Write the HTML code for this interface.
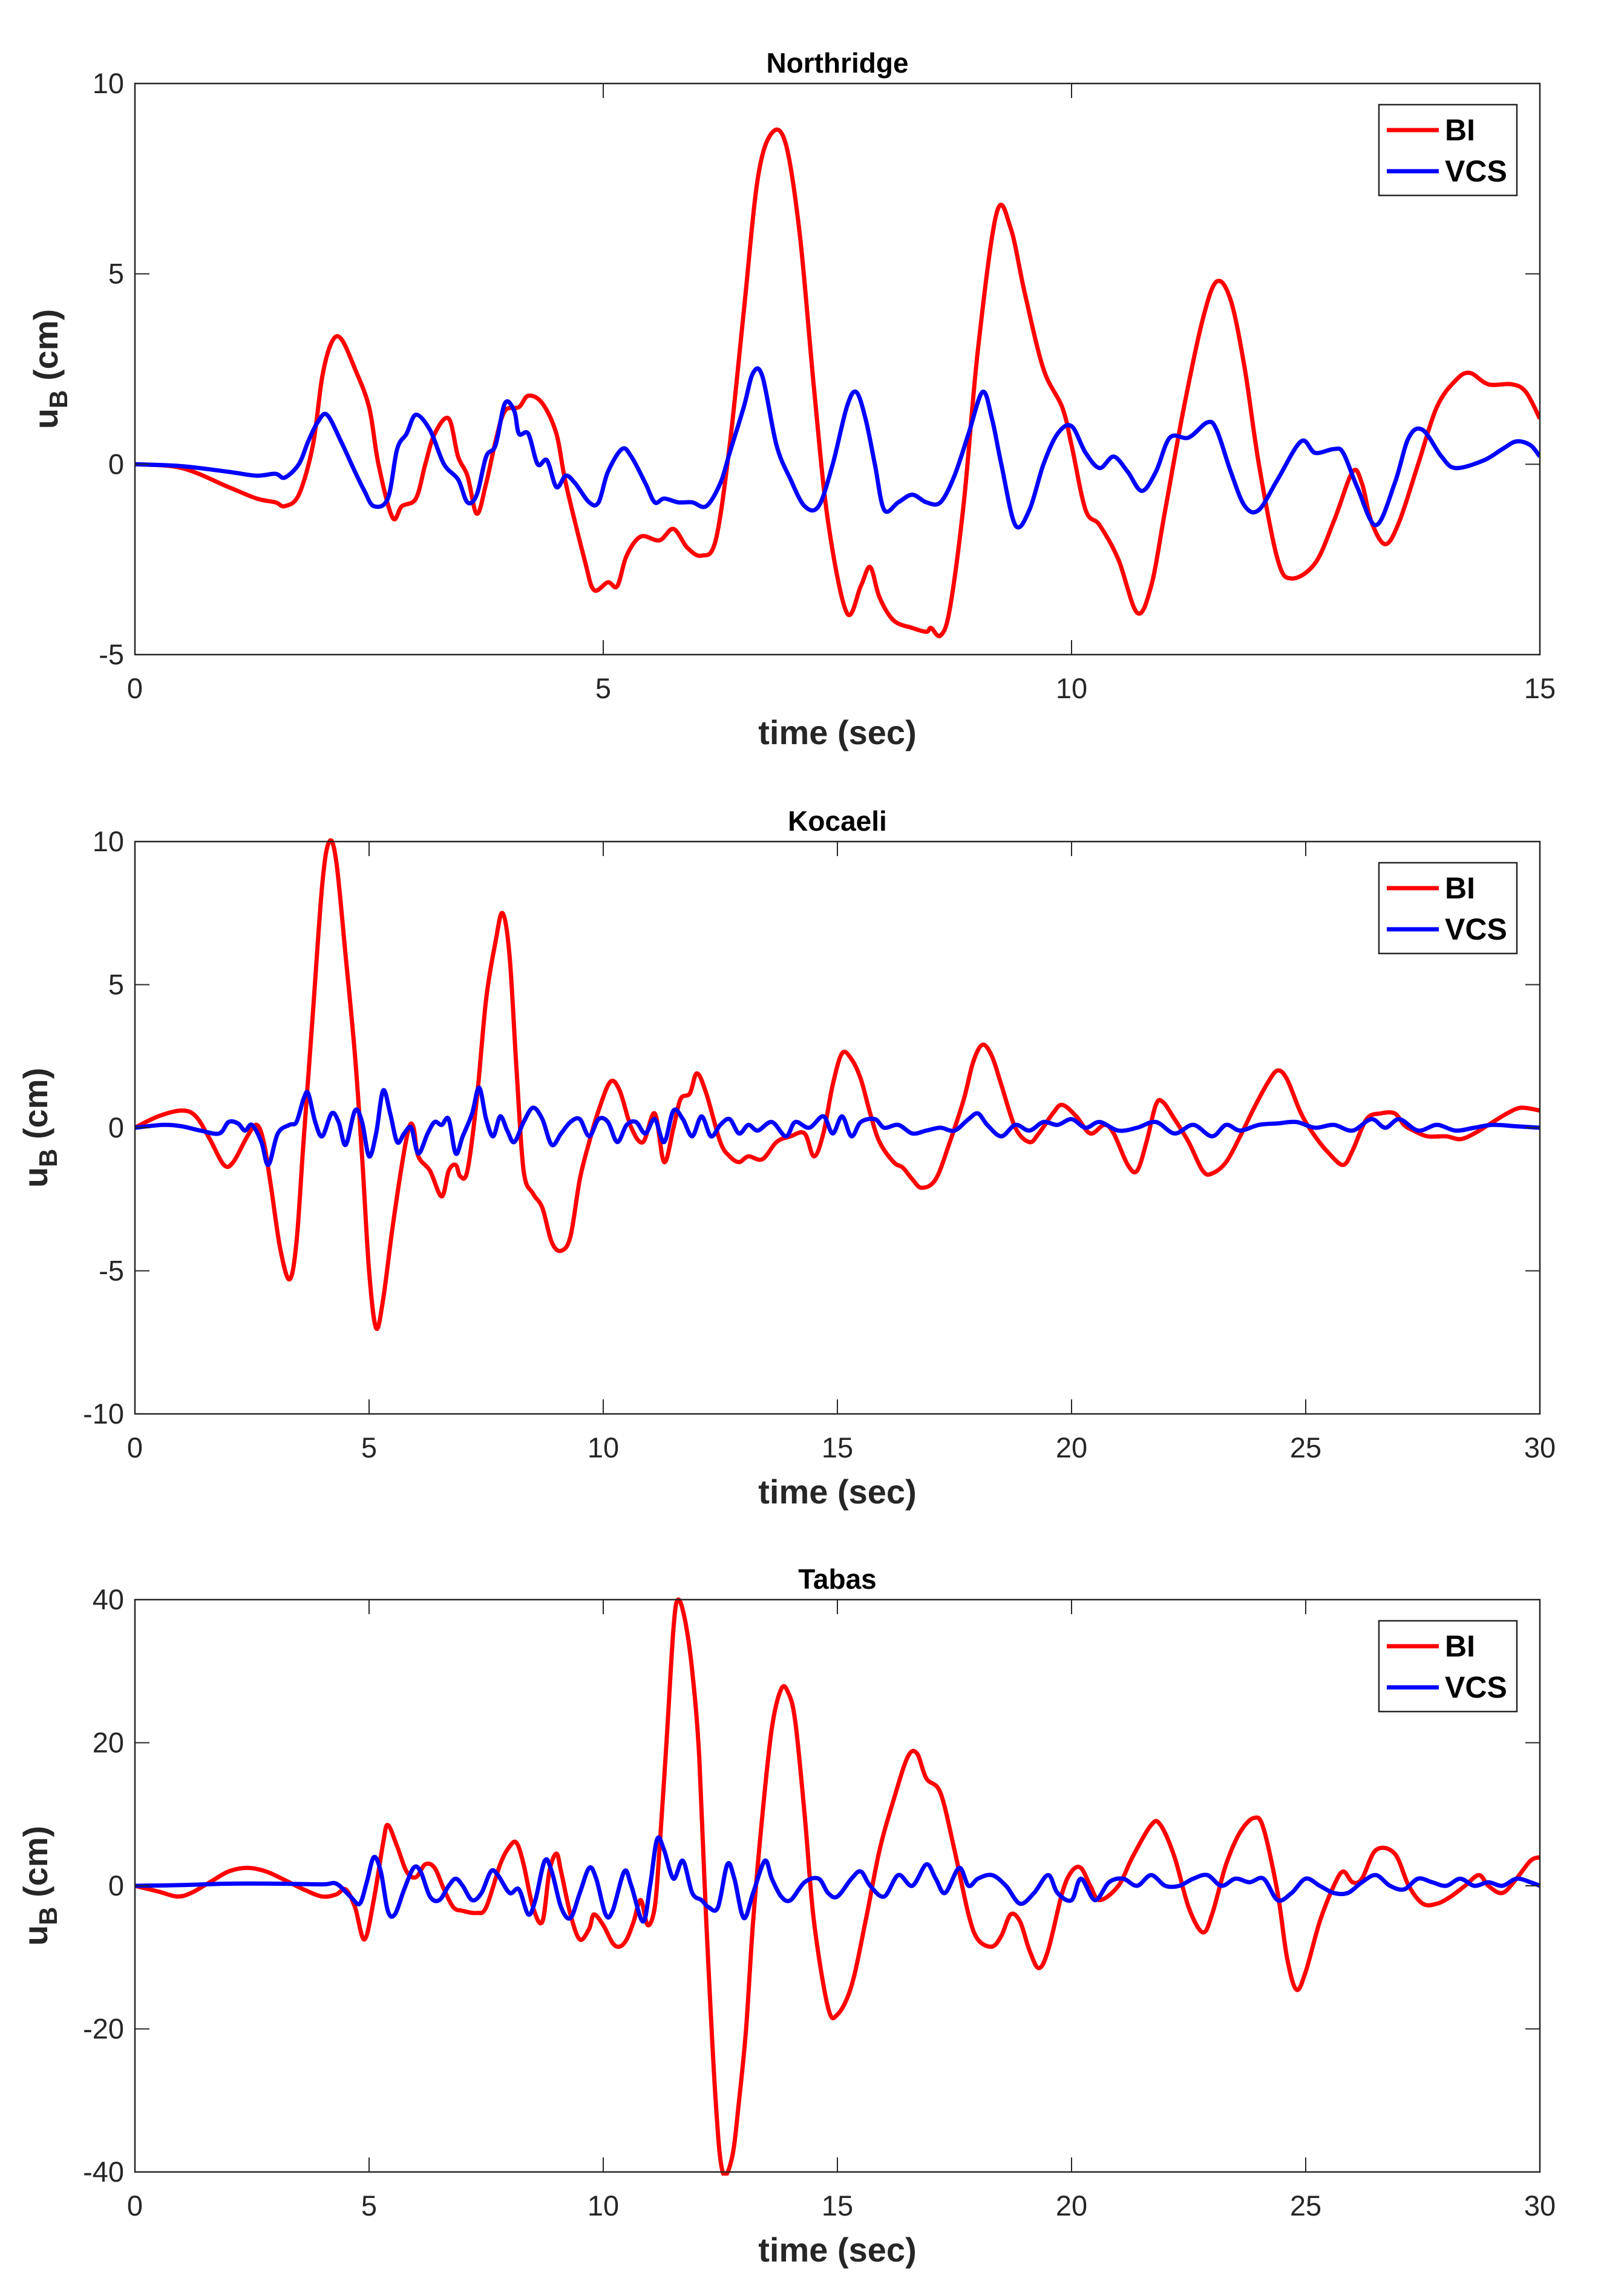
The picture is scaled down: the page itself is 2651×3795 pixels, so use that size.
<!DOCTYPE html>
<html><head><meta charset="utf-8"><style>
html,body{margin:0;padding:0;background:#fff}
svg{display:block}
text{font-family:"Liberation Sans",Arial,sans-serif}
</style></head><body>
<svg id="fig" width="2651" height="3795" viewBox="0 0 2651 3795" xmlns="http://www.w3.org/2000/svg"></svg>
<script>
// ---------- Data ----------
const nrBI_t = [0,0.5,1,1.3,1.5,1.6,1.75,1.9,2.0,2.1,2.2,2.35,2.5,2.6,2.75,2.85,3.0,3.1,3.2,3.35,3.45,3.55,3.65,3.75,3.85,3.95,4.1,4.2,4.35,4.5,4.6,4.8,4.9,5.05,5.15,5.25,5.4,5.6,5.75,5.9,6.05,6.2,6.35,6.5,6.65,6.8,6.95,7.1,7.25,7.4,7.6,7.75,7.85,7.95,8.1,8.3,8.45,8.5,8.6,8.7,8.85,9.0,9.2,9.35,9.5,9.7,9.9,10.0,10.15,10.3,10.5,10.7,10.85,11.0,11.2,11.4,11.55,11.7,11.85,12.0,12.2,12.35,12.6,12.8,13.0,13.1,13.2,13.35,13.5,13.7,13.9,14.1,14.25,14.45,14.7,14.85,15];
const nrBI_v = [0,-0.1,-0.6,-0.9,-1.0,-1.1,-0.8,0.5,2.3,3.2,3.3,2.5,1.5,0,-1.4,-1.1,-0.9,0,0.8,1.2,0.2,-0.3,-1.3,-0.5,0.6,1.4,1.5,1.8,1.6,0.8,-0.5,-2.5,-3.3,-3.1,-3.2,-2.4,-1.9,-2.0,-1.7,-2.2,-2.4,-2.0,0.5,4,7.5,8.7,8.4,6.0,2,-1.5,-3.9,-3.2,-2.7,-3.5,-4.1,-4.3,-4.4,-4.3,-4.5,-3.8,-1.0,3,6.6,6.2,4.5,2.5,1.5,0.5,-1.2,-1.6,-2.5,-3.9,-3.2,-1.2,1.5,3.8,4.8,4.3,2.5,0,-2.5,-3.0,-2.6,-1.5,-0.2,-0.5,-1.5,-2.1,-1.5,0,1.5,2.2,2.4,2.1,2.1,1.9,1.2];
const nrVCS_t = [0,0.5,1,1.3,1.5,1.6,1.75,1.85,1.95,2.05,2.2,2.35,2.45,2.55,2.7,2.8,2.9,3.0,3.15,3.3,3.45,3.55,3.65,3.75,3.85,3.95,4.05,4.1,4.2,4.3,4.4,4.5,4.6,4.7,4.85,4.95,5.05,5.2,5.3,5.45,5.55,5.65,5.8,5.95,6.1,6.25,6.35,6.5,6.6,6.7,6.85,7.0,7.15,7.3,7.45,7.6,7.7,7.8,7.9,8.0,8.15,8.3,8.45,8.6,8.75,8.9,9.05,9.15,9.25,9.4,9.55,9.7,9.85,10.0,10.15,10.3,10.45,10.6,10.75,10.9,11.05,11.25,11.45,11.55,11.7,11.85,12.0,12.2,12.45,12.6,12.8,12.9,13.05,13.25,13.45,13.6,13.75,13.95,14.1,14.4,14.6,14.75,14.9,15];
const nrVCS_v = [0,-0.05,-0.2,-0.3,-0.25,-0.35,0,0.6,1.1,1.3,0.6,-0.2,-0.7,-1.1,-0.9,0.4,0.8,1.3,0.9,0,-0.4,-1.0,-0.8,0.2,0.5,1.6,1.4,0.8,0.8,0,0.1,-0.6,-0.3,-0.5,-1.0,-1.0,-0.2,0.4,0.2,-0.5,-1.0,-0.9,-1.0,-1.0,-1.1,-0.5,0.3,1.5,2.4,2.3,0.5,-0.4,-1.1,-1.1,0,1.5,1.9,1.2,0,-1.2,-1.0,-0.8,-1.0,-1.0,-0.3,0.8,1.9,1.2,0,-1.6,-1.2,0,0.8,1.0,0.3,-0.1,0.2,-0.2,-0.7,-0.2,0.7,0.7,1.1,0.9,-0.2,-1.1,-1.2,-0.4,0.6,0.3,0.4,0.3,-0.6,-1.6,-0.5,0.7,0.9,0.2,-0.1,0.1,0.4,0.6,0.5,0.2];

const koBI_t = [0,0.5,1.0,1.3,1.6,1.9,2.1,2.4,2.6,2.75,2.9,3.1,3.3,3.45,3.6,3.8,4.0,4.15,4.3,4.5,4.7,4.85,5.0,5.15,5.3,5.5,5.7,5.85,5.95,6.05,6.3,6.55,6.7,6.85,6.95,7.1,7.3,7.5,7.7,7.85,8.0,8.15,8.3,8.5,8.7,8.9,9.1,9.3,9.5,9.7,9.9,10.15,10.35,10.6,10.85,11.1,11.3,11.5,11.65,11.85,12.0,12.2,12.5,12.7,12.9,13.1,13.4,13.7,14.0,14.3,14.5,14.7,14.9,15.1,15.3,15.5,15.7,15.9,16.2,16.4,16.6,16.8,17.1,17.4,17.7,17.9,18.1,18.3,18.5,18.8,19.1,19.3,19.6,19.8,20.1,20.4,20.7,20.9,21.2,21.4,21.6,21.8,21.95,22.2,22.5,22.8,23.0,23.3,23.6,23.9,24.2,24.4,24.6,24.9,25.2,25.5,25.8,26.0,26.3,26.6,26.9,27.1,27.3,27.6,28.0,28.3,28.6,29.0,29.3,29.6,30];
const koBI_v = [0,0.4,0.6,0.4,-0.4,-1.3,-1.2,-0.3,0.1,-0.5,-2.0,-4.2,-5.3,-4.0,-0.5,4.0,8.5,10,9.3,6.0,2.5,-1.0,-5.0,-7.0,-6.0,-3.5,-1.3,0,0,-1.0,-1.5,-2.4,-1.5,-1.3,-1.7,-1.5,1.0,4.5,6.5,7.5,6.0,2.0,-1.5,-2.3,-2.8,-4.0,-4.3,-3.8,-1.8,-0.5,0.6,1.6,1.3,0,-0.5,0.5,-1.2,0,1.0,1.2,1.9,1.2,-0.5,-1.0,-1.2,-1.0,-1.1,-0.5,-0.3,-0.2,-1.0,-0.2,1.5,2.6,2.4,1.7,0.5,-0.5,-1.2,-1.4,-1.8,-2.1,-1.8,-0.5,1.0,2.3,2.9,2.5,1.5,0,-0.5,-0.2,0.5,0.8,0.4,-0.2,0.1,-0.2,-1.3,-1.5,-0.5,0.8,0.9,0.3,-0.5,-1.5,-1.6,-1.2,-0.3,0.7,1.6,2.0,1.7,0.5,-0.3,-0.9,-1.3,-0.8,0.3,0.5,0.5,0.1,-0.1,-0.3,-0.3,-0.4,-0.2,0.2,0.5,0.7,0.6];
const koVCS_t = [0,0.6,1.0,1.4,1.8,2.0,2.2,2.35,2.5,2.7,2.85,3.05,3.3,3.45,3.6,3.7,3.85,4.0,4.2,4.35,4.5,4.7,4.85,5.0,5.15,5.3,5.45,5.6,5.75,5.9,6.05,6.25,6.4,6.55,6.7,6.85,7.0,7.2,7.35,7.5,7.65,7.8,7.95,8.1,8.3,8.5,8.7,8.9,9.1,9.3,9.5,9.7,9.9,10.1,10.3,10.5,10.7,10.9,11.1,11.3,11.5,11.7,11.9,12.1,12.3,12.5,12.7,12.9,13.1,13.3,13.6,13.9,14.1,14.4,14.7,14.9,15.1,15.3,15.5,15.8,16.0,16.3,16.6,16.9,17.2,17.5,17.8,18.0,18.2,18.5,18.8,19.1,19.4,19.7,20.0,20.3,20.6,21.0,21.4,21.8,22.2,22.6,23.0,23.3,23.6,24.0,24.4,24.8,25.2,25.6,26.0,26.4,26.7,27.0,27.4,27.8,28.2,28.6,29.0,29.5,30];
const koVCS_v = [0,0.1,0.05,-0.1,-0.2,0.2,0.15,-0.1,0.1,-0.5,-1.3,-0.2,0.1,0.2,1.0,1.2,0.2,-0.3,0.5,0.2,-0.6,0.6,0.2,-1.0,-0.2,1.3,0.5,-0.5,-0.2,0,-0.9,-0.2,0.2,0.1,0.3,-0.9,-0.3,0.5,1.4,0.3,-0.3,0.4,-0.1,-0.5,0.2,0.7,0.3,-0.6,-0.2,0.2,0.3,-0.3,0.3,0.2,-0.5,0.1,0.2,-0.2,0.3,-0.5,0.6,0.3,-0.3,0.4,-0.3,0.1,0.3,-0.2,0.1,-0.1,0.2,-0.3,0.2,0,0.4,-0.2,0.4,-0.3,0.2,0.3,0,0.1,-0.2,-0.1,0,-0.1,0.3,0.5,0.1,-0.3,0.1,-0.1,0.2,0.1,0.3,0,0.2,-0.1,0,0.2,-0.2,0.1,-0.3,0.1,-0.1,0.1,0.15,0.2,0,0.1,-0.1,0.3,0,0.3,-0.1,0.1,-0.1,0,0.1,0.05,0];

const taBI_t = [0,0.5,0.9,1.2,1.6,2.0,2.4,2.8,3.2,3.6,4.0,4.3,4.5,4.7,4.9,5.1,5.3,5.4,5.6,5.8,6.0,6.2,6.4,6.6,6.8,7.0,7.3,7.5,7.8,8.0,8.15,8.3,8.5,8.7,8.85,9.0,9.1,9.3,9.5,9.7,9.8,10.0,10.2,10.35,10.5,10.65,10.8,10.95,11.1,11.2,11.35,11.5,11.6,11.75,11.9,12.05,12.2,12.4,12.55,12.75,12.9,13.05,13.2,13.4,13.6,13.8,13.95,14.1,14.3,14.5,14.8,15.0,15.3,15.6,15.9,16.2,16.5,16.7,16.9,17.2,17.5,17.8,18.0,18.3,18.5,18.7,18.9,19.1,19.3,19.5,19.8,20.0,20.2,20.4,20.6,21.0,21.3,21.7,21.9,22.2,22.5,22.8,23.0,23.3,23.6,23.9,24.1,24.4,24.6,24.8,25.0,25.3,25.6,25.8,26.0,26.2,26.5,26.9,27.2,27.5,27.8,28.1,28.4,28.7,28.9,29.2,29.5,29.8,30];
const taBI_v = [0,-0.8,-1.5,-1.0,0.5,2.0,2.5,2.0,0.8,-0.5,-1.5,-1.2,-0.5,-3,-7.5,-2,6,8.5,5.5,2.0,1.2,3.0,2.5,-0.5,-3,-3.5,-3.8,-3,3,5.5,6,3,-3,-5,2,4.5,2,-4,-7.5,-6,-4,-5.5,-8,-8.5,-7.5,-5,-2,-5.5,-3,5,20,36,40,37,30,18,-5,-30,-40,-38,-30,-20,-5,10,22,27.5,27,23,10,-5,-17,-18,-14,-5,5,12,18,18.5,15,13,5,-4,-7.5,-8.5,-7,-4,-5,-9,-11.5,-9,-1,2,2.5,0,-2,0,4,8.5,8.5,4,-3,-6.5,-4,3,7.5,9.5,8,-1,-10,-14.5,-12,-5,0,2,0.5,1,5,4.5,0,-2.5,-2.5,-1.5,0,1.5,0,-1,1,3.5,4];
const taVCS_t = [0,1,2,3,4,4.3,4.6,4.8,4.95,5.1,5.25,5.4,5.55,5.75,5.95,6.1,6.3,6.5,6.7,6.85,7.0,7.2,7.4,7.6,7.75,8.0,8.2,8.4,8.55,8.75,8.9,9.1,9.3,9.5,9.7,9.85,10.05,10.2,10.45,10.6,10.85,11.0,11.15,11.3,11.5,11.7,11.9,12.1,12.25,12.45,12.65,12.8,13.0,13.2,13.45,13.6,13.8,14.0,14.3,14.6,14.8,15.0,15.3,15.5,15.7,16.0,16.3,16.6,16.9,17.1,17.3,17.6,17.8,18.0,18.3,18.6,18.9,19.2,19.5,19.7,20.0,20.2,20.5,20.8,21.1,21.4,21.7,22.0,22.3,22.6,22.9,23.2,23.5,23.8,24.1,24.4,24.7,25.0,25.3,25.6,25.9,26.2,26.5,26.8,27.1,27.4,27.7,28.0,28.3,28.6,28.9,29.2,29.5,29.8,30];
const taVCS_v = [0,0.1,0.3,0.3,0.2,0.3,-1.5,-2.5,0.5,4.0,2,-3.5,-4,-0.5,2.5,2,-1.5,-2,0,1,0,-2,-1,2,1.5,-1,-0.5,-4,-2,3.5,2,-3,-4.5,-1,2.5,1,-4,-3.5,2,0,-5,0,6.5,5,1,3.5,-1,-2,-3,-3,3,1,-4.5,-1,3.5,1,-1.5,-2,0.5,1,-1,-1.5,1,2,0,-1.5,1.5,0,3,1,-1,2.5,0,1,1.5,0,-2.5,-1,1.5,-1,-2,1,-2,0.5,1,0,1.5,0,0,1,1.5,0,1,0.5,1,-2,-1,1,0,-1,-1,0.5,1.5,0,-0.5,1,0.5,0,1,0,0.5,0,1,0.5,0];

const xTicks15 = [0,5,10,15];
const xTicks30 = [0,5,10,15,20,25,30];
const yTicksNR = [-5,0,5,10];
const yTicksKO = [-10,-5,0,5,10];
const yTicksTA = [-40,-20,0,20,40];
const titles = ["Northridge","Kocaeli","Tabas"];
const seriesNames = ["BI","VCS"];

// ---------- Drawing ----------
const NS = "http://www.w3.org/2000/svg";
const svg = document.getElementById('fig');
function mk(tag, attrs, parent){
  const e = document.createElementNS(NS, tag);
  for (const k in attrs) e.setAttribute(k, attrs[k]);
  (parent||svg).appendChild(e);
  return e;
}
function smoothPath(pts){
  let d = "M" + pts[0][0].toFixed(1) + "," + pts[0][1].toFixed(1);
  for (let i=0;i<pts.length-1;i++){
    const p0 = pts[Math.max(0,i-1)], p1 = pts[i], p2 = pts[i+1], p3 = pts[Math.min(pts.length-1,i+2)];
    const c1x = p1[0]+(p2[0]-p0[0])/6, c1y = p1[1]+(p2[1]-p0[1])/6;
    const c2x = p2[0]-(p3[0]-p1[0])/6, c2y = p2[1]-(p3[1]-p1[1])/6;
    d += " C"+c1x.toFixed(1)+","+c1y.toFixed(1)+" "+c2x.toFixed(1)+","+c2y.toFixed(1)+" "+p2[0].toFixed(1)+","+p2[1].toFixed(1);
  }
  return d;
}
const L = 223, R = 2545;
function panel(idx, top, bottom, xmax, xTicks, yTicks, ylabelX, bi_t, bi_v, vcs_t, vcs_v){
  const ymin = yTicks[0], ymax = yTicks[yTicks.length-1];
  const xs = t => L + (t/xmax)*(R-L);
  const ys = v => bottom - (v-ymin)/(ymax-ymin)*(bottom-top);
  const g = mk('g', {});
  
  
  const clipId = 'clip'+idx;
  const cp = mk('clipPath', {id:clipId}, g);
  mk('rect', {x:L, y:top-6, width:R-L, height:bottom-top+12}, cp);
  const colors = ['#ff0000','#0000ff'];
  [[bi_t,bi_v],[vcs_t,vcs_v]].forEach((s,si)=>{
    const pts = s[0].map((t,i)=>[xs(t), ys(s[1][i])]);
    const p = mk('path', {d:smoothPath(pts), fill:'none', stroke:colors[si], 'stroke-width':7, 'stroke-linejoin':'round', 'clip-path':'url(#'+clipId+')'}, g);
    
    
  });
  const box = mk('rect', {x:L, y:top, width:R-L, height:bottom-top, fill:'none', stroke:'#262626', 'stroke-width':2.5}, g);
  
  
  xTicks.forEach(t=>{
    const x = xs(t);
    mk('line', {x1:x, y1:bottom, x2:x, y2:bottom-24, stroke:'#262626', 'stroke-width':2}, g);
    mk('line', {x1:x, y1:top, x2:x, y2:top+24, stroke:'#262626', 'stroke-width':2}, g);
    const tx = mk('text', {x:x, y:bottom+72, 'text-anchor':'middle', 'font-size':47, fill:'#262626'}, g);
    tx.textContent = t;
    
    
  });
  yTicks.forEach(v=>{
    const y = ys(v);
    mk('line', {x1:L, y1:y, x2:L+24, y2:y, stroke:'#262626', 'stroke-width':2}, g);
    mk('line', {x1:R, y1:y, x2:R-24, y2:y, stroke:'#262626', 'stroke-width':2}, g);
    const tx = mk('text', {x:L-18, y:y+16, 'text-anchor':'end', 'font-size':47, fill:'#262626'}, g);
    tx.textContent = v;
    
    
  });
  const tt = mk('text', {x:(L+R)/2, y:top-18, 'text-anchor':'middle', 'font-size':46, 'font-weight':'bold', fill:'#000'}, g);
  tt.textContent = titles[idx];
  
  
  const xl = mk('text', {x:(L+R)/2, y:bottom+148, 'text-anchor':'middle', 'font-size':56, 'font-weight':'bold', fill:'#262626'}, g);
  xl.textContent = 'time (sec)';
  
  
  const cy = (top+bottom)/2;
  const yl = mk('text', {x:0, y:0, transform:'translate('+ylabelX+','+cy+') rotate(-90)', 'text-anchor':'middle', 'font-size':56, 'font-weight':'bold', fill:'#262626'}, g);
  
  
  const s1 = document.createElementNS(NS,'tspan'); s1.textContent='u'; yl.appendChild(s1);
  const s2 = document.createElementNS(NS,'tspan'); s2.textContent='B'; s2.setAttribute('dy','16'); s2.setAttribute('font-size','42'); yl.appendChild(s2);
  const s3 = document.createElementNS(NS,'tspan'); s3.textContent=' (cm)'; s3.setAttribute('dy','-16'); yl.appendChild(s3);
  const lg = mk('g', {}, g);
  
  
  mk('rect', {x:2279, y:top+35, width:228, height:150, fill:'#fff', stroke:'#262626', 'stroke-width':2.5}, lg);
  seriesNames.forEach((n,i)=>{
    const yy = top + 77 + i*68;
    const e = mk('g', {}, lg);
    
    
    mk('line', {x1:2292, y1:yy, x2:2378, y2:yy, stroke:colors[i], 'stroke-width':7}, e);
    const t = mk('text', {x:2388, y:yy+17, 'font-size':50, 'font-weight':'bold', fill:'#000'}, e);
    t.textContent = n;
  });
}
panel(0, 138, 1082, 15, xTicks15, yTicksNR, 95, nrBI_t, nrBI_v, nrVCS_t, nrVCS_v);
panel(1, 1391, 2337, 30, xTicks30, yTicksKO, 78, koBI_t, koBI_v, koVCS_t, koVCS_v);
panel(2, 2644, 3590, 30, xTicks30, yTicksTA, 78, taBI_t, taBI_v, taVCS_t, taVCS_v);
</script>
</body></html>
